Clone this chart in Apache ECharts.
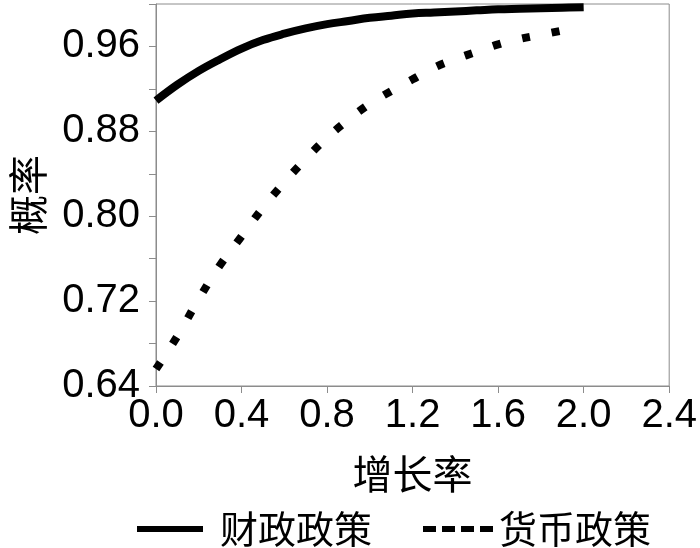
<!DOCTYPE html>
<html>
<head>
<meta charset="utf-8">
<script src="https://cdn.jsdelivr.net/npm/echarts@6/dist/echarts.min.js"></script>
<style>html,body{margin:0;padding:0;background:#fff}#c{width:700px;height:548px}</style>
</head>
<body>
<div id="c"></div>
<script>
var growthFiscal = [0.0,0.1,0.2,0.3,0.4,0.5,0.6,0.7,0.8,0.9,1.0,1.1,1.2,1.3,1.4,1.5,1.6,1.7,1.8,1.9,2.0];
var fiscalProb = [0.909,0.924,0.937,0.948,0.958,0.966,0.972,0.977,0.981,0.984,0.987,0.989,0.991,0.992,0.993,0.994,0.995,0.9955,0.996,0.9965,0.997];
var growthMonetary = [0.0,0.1,0.2,0.3,0.4,0.5,0.6,0.7,0.8,0.9,1.0,1.1,1.2,1.3,1.4,1.5,1.6,1.7,1.8,1.9];
var monetaryProb = [0.656,0.687,0.722,0.754,0.781,0.808,0.832,0.854,0.874,0.891,0.906,0.918,0.929,0.940,0.948,0.955,0.962,0.967,0.971,0.975];
var seriesNames = ['财政政策','货币政策'];
var yTickLabels = ['0.64','0.72','0.80','0.88','0.96'];
var xTickLabels = ['0.0','0.4','0.8','1.2','1.6','2.0','2.4'];

function pairs(xs, ys){ return xs.map(function(x,i){ return [x, ys[i]]; }); }

var chart = echarts.init(document.getElementById('c'), null, {renderer:'canvas'});
var latin = 'Liberation Sans, Arial, sans-serif';
var cjk = '"Noto Sans CJK SC", sans-serif';
chart.setOption({
  animation: false,
  backgroundColor: '#fff',
  grid: {left:153, top:4, right:30, bottom:162, show:true, borderColor:'#8c8c8c', borderWidth:1},
  xAxis: {
    type:'value', min:0, max:2.4, interval:0.4,
    name:'增长率', nameLocation:'middle', nameGap:68,
    nameTextStyle:{fontFamily:cjk, fontSize:40, color:'#000'},
    axisLine:{show:true, lineStyle:{color:'#8c8c8c', width:1}},
    axisTick:{show:true, length:7, lineStyle:{color:'#8c8c8c'}},
    splitLine:{show:false},
    axisLabel:{fontFamily:latin, fontSize:40, color:'#000', margin:10,
      formatter:function(v){ var s=v.toFixed(1); return xTickLabels.indexOf(s)>=0?s:''; }}
  },
  yAxis: {
    type:'value', min:0.64, max:1.0, interval:0.04,
    name:'概率', nameLocation:'middle', nameGap:108, nameRotate:90,
    nameTextStyle:{fontFamily:cjk, fontSize:40, color:'#000'},
    axisLine:{show:true, lineStyle:{color:'#8c8c8c', width:1}},
    axisTick:{show:true, length:7, lineStyle:{color:'#8c8c8c'}},
    splitLine:{show:false},
    axisLabel:{fontFamily:latin, fontSize:40, color:'#000', margin:16,
      formatter:function(v){ var s=v.toFixed(2); return yTickLabels.indexOf(s)>=0?s:''; }}
  },
  legend: [
    {left:132, top:505, itemWidth:66, itemHeight:6,
     data:[{name:seriesNames[0], icon:'rect', itemStyle:{color:'#000', borderWidth:0}}],
     textStyle:{fontFamily:cjk, fontSize:38, color:'#000', padding:[0,0,0,12]}},
    {left:418, top:505, itemWidth:72, itemHeight:6,
     data:[{name:seriesNames[1], icon:'path://M0,0h13v6h-13z M19,0h13v6h-13z M38,0h13v6h-13z M57,0h13v6h-13z', itemStyle:{color:'#000', borderWidth:0}}],
     textStyle:{fontFamily:cjk, fontSize:38, color:'#000', padding:[0,0,0,0]}}
  ],
  series: [
    {name:seriesNames[0], type:'line', data:pairs(growthFiscal, fiscalProb), symbol:'none', smooth:0.4,
     lineStyle:{color:'#000', width:8, type:'solid'}, itemStyle:{color:'#000'}},
    {name:seriesNames[1], type:'line', data:pairs(growthMonetary, monetaryProb), symbol:'none', smooth:0.4,
     lineStyle:{color:'#000', width:8, type:[8,22], cap:'butt'}, itemStyle:{color:'#000'}}
  ]
});
</script>
</body>
</html>
